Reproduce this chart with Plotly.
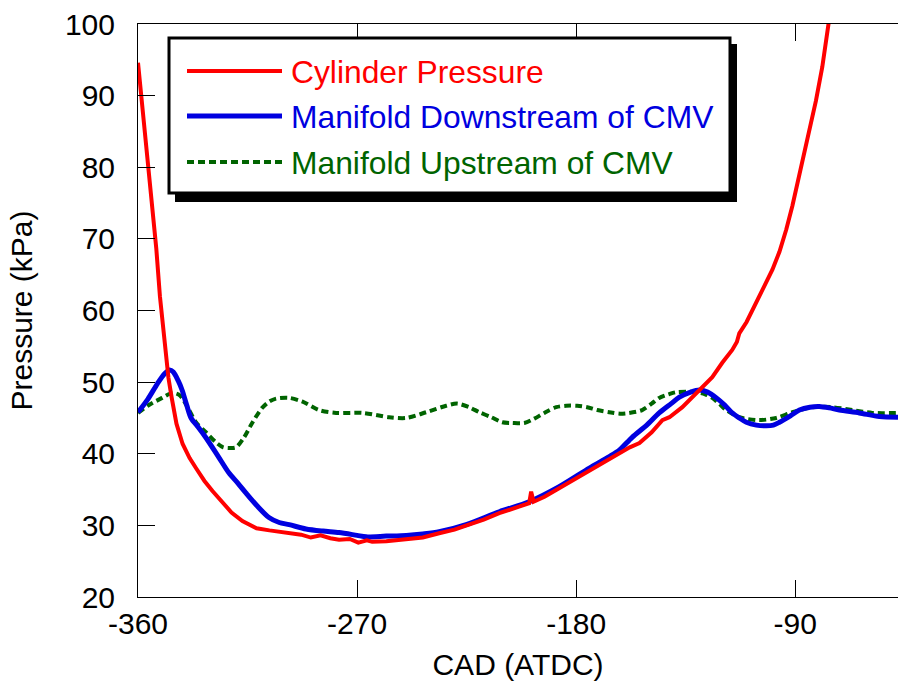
import plotly.graph_objects as go

# Crank angle (deg ATDC) and pressure (kPa) for each measured signal
cyl_cad = [-360, -358.5, -357, -355.5, -354, -352.5, -351, -349.1, -347.5, -346.2,
           -344.2, -341.7, -338.8, -336.0, -332.7, -329.4, -325.7, -321.6, -317.1,
           -311.3, -306, -302, -297, -293, -289, -285, -281, -277.4, -273, -269.5,
           -266, -263.8, -258, -253, -249.8, -243, -236.3, -230, -225, -218, -211.6,
           -205, -199.3, -198.5, -197.5, -193, -187, -181, -174.6, -170, -165.2,
           -162.3, -158, -154, -149, -144.6, -141.7, -136.4, -133.5, -130.7, -128.2,
           -124.1, -120, -115.9, -114, -113, -110, -107.6, -103.5, -99.4, -96.5,
           -93.7, -91.2, -88.5, -86.3, -84.2, -81.5, -78.9, -76.4, -75.5]
cyl_p = [94.6, 89.5, 84.5, 79.3, 74.0, 68.7, 62.0, 55.0, 50.6, 47.9,
         44.2, 41.4, 39.4, 37.9, 36.2, 34.8, 33.3, 31.8, 30.6,
         29.6, 29.3, 29.1, 28.9, 28.7, 28.3, 28.6, 28.2, 28.0, 28.1, 27.6,
         27.9, 27.7, 27.8, 28.0, 28.0, 28.3, 28.9, 29.4, 30.0, 30.8, 31.7,
         32.4, 33.1, 34.7, 33.3, 34.0, 35.2, 36.3, 37.7, 38.6, 39.6,
         40.1, 40.9, 41.5, 43.0, 44.7, 45.1, 46.5, 47.5, 48.5, 49.3,
         50.7, 52.7, 54.5, 55.6, 56.8, 58.4, 60.1, 62.9, 65.7, 68.2,
         71.3, 74.6, 78.7, 81.5, 84.8, 89.3, 94.0, 100.0, 102.0]

down_cad = [-360, -356, -352, -349, -347, -345.5, -343.5, -341.9, -340, -338.2,
            -335, -332, -327, -322.6, -319, -315.6, -311, -306.2, -302, -297.9,
            -291, -284, -277.4, -270, -266.3, -258, -249.8, -243, -236.3, -225.2,
            -211.6, -199.3, -187, -174.6, -166.4, -162.3, -157, -151, -145.9, -141,
            -137.6, -133, -129.4, -126, -122.4, -119, -115.9, -113, -110.1, -106,
            -101.9, -99, -96.5, -92, -88.3, -84, -80.1, -76, -71.9, -63.7, -55.4, -47.8]
down_p = [45.8, 47.6, 49.8, 51.2, 51.7, 51.4, 50.2, 48.9, 46.8, 45.0,
          43.6, 42.2, 39.6, 37.3, 35.9, 34.5, 32.7, 31.1, 30.4, 30.1,
          29.5, 29.2, 29.0, 28.6, 28.4, 28.5, 28.6, 28.8, 29.1, 30.1,
          31.9, 33.3, 35.4, 38.0, 39.6, 40.5, 42.3, 44.0, 45.7, 47.0,
          47.9, 48.6, 48.9, 48.6, 47.8, 46.8, 45.7, 45.0, 44.4, 44.0,
          43.9, 44.0, 44.4, 45.3, 46.1, 46.5, 46.6, 46.4, 46.1, 45.7, 45.2, 45.1]

up_cad = [-360, -355.5, -350.1, -346, -343.5, -341.9, -339, -336.2, -332.1, -328,
          -325, -322, -319.7, -316.4, -313.1, -309, -306, -303.3, -297.9, -292.6,
          -285.6, -278.6, -267.9, -256.8, -249.8, -241.6, -233.4, -228.9, -224, -219.8,
          -214.9, -210.4, -206.3, -201.3, -197.2, -193.1, -188.2, -184.1, -179.6, -175.5,
          -171.3, -166.4, -162, -158.2, -152.9, -149, -145.9, -142, -138.9, -130.7,
          -127, -124.1, -121, -118.3, -113, -104.8, -97.8, -91.2, -83, -74.8,
          -66.5, -58.3, -47.8]
up_p = [45.7, 46.8, 47.8, 48.5, 48.3, 47.8, 46.1, 44.4, 43.0, 41.6,
        40.9, 40.8, 40.9, 42.3, 44.3, 46.4, 47.3, 47.7, 47.8, 47.3,
        46.1, 45.7, 45.7, 45.1, 45.0, 45.8, 46.7, 47.0, 46.5, 45.8,
        45.1, 44.4, 44.3, 44.3, 44.9, 45.7, 46.5, 46.7, 46.7, 46.5,
        46.1, 45.8, 45.6, 45.7, 46.1, 47.0, 47.8, 48.3, 48.6, 48.6,
        48.3, 47.8, 46.9, 46.1, 45.1, 44.7, 45.0, 45.8, 46.5, 46.5,
        46.1, 45.7, 45.7]

series_names = ["Cylinder Pressure", "Manifold Downstream of CMV", "Manifold Upstream of CMV"]
series_colors = ["#ff0000", "#0000e0", "#006400"]

x_ticks = [-360, -270, -180, -90]
x_tick_text = ["-360", "-270", "-180", "-90"]
y_ticks = [20, 30, 40, 50, 60, 70, 80, 90, 100]

FONT = "Liberation Sans, Arial, sans-serif"

fig = go.Figure()
fig.add_trace(go.Scatter(x=up_cad, y=up_p, mode="lines", name=series_names[2],
                         line=dict(color=series_colors[2], width=4, dash="7px,4px",
                                   shape="spline", smoothing=0.8)))
fig.add_trace(go.Scatter(x=down_cad, y=down_p, mode="lines", name=series_names[1],
                         line=dict(color=series_colors[1], width=5,
                                   shape="spline", smoothing=0.8)))
fig.add_trace(go.Scatter(x=cyl_cad, y=cyl_p, mode="lines", name=series_names[0],
                         line=dict(color=series_colors[0], width=4)))

# plot-area geometry in pixels, used to place the boxed key
L, T, R, B = 138, 24, 898, 597


def px(xp):
    return (xp - L) / (R - L)


def py(yp):
    return (B - yp) / (B - T)


shapes = [
    # drop shadow and framed box of the key
    dict(type="rect", xref="paper", yref="paper", x0=px(175), x1=px(737),
         y0=py(202), y1=py(44), fillcolor="black", line=dict(width=0), layer="above"),
    dict(type="rect", xref="paper", yref="paper", x0=px(169), x1=px(730),
         y0=py(193), y1=py(38), fillcolor="white", line=dict(color="black", width=3),
         layer="above"),
]
annotations = []
rows_y = [71, 116, 162]
dashes = ["solid", "solid", "7px,4px"]
widths = [4, 5, 4]
for name, color, ry, dsh, w in zip(series_names, series_colors, rows_y, dashes, widths):
    shapes.append(dict(type="line", xref="paper", yref="paper", x0=px(187), x1=px(282),
                       y0=py(ry), y1=py(ry), line=dict(color=color, width=w, dash=dsh),
                       layer="above"))
    annotations.append(dict(xref="paper", yref="paper", x=px(289), y=py(ry + 1),
                            xanchor="left", yanchor="middle", showarrow=False,
                            text=name, font=dict(family=FONT, size=31.8, color=color)))

fig.update_layout(
    width=898, height=681,
    margin=dict(l=L, r=898 - R, t=T, b=681 - B),
    paper_bgcolor="white", plot_bgcolor="white",
    showlegend=False,
    font=dict(family=FONT, size=30, color="black"),
    xaxis=dict(range=[-360, -47.8], tickvals=x_ticks, ticktext=x_tick_text,
               ticks="inside", ticklen=17,
               tickwidth=1, tickcolor="black", showline=True, linecolor="black",
               linewidth=1, mirror="ticks", showgrid=False, zeroline=False,
               tickfont=dict(size=30), ticklabelstandoff=0,
               title=dict(text="CAD (ATDC)", font=dict(size=30), standoff=16)),
    yaxis=dict(range=[20, 100], tickvals=y_ticks, ticks="inside", ticklen=17,
               tickwidth=1, tickcolor="black", showline=True, linecolor="black",
               linewidth=1, mirror=False, showgrid=False, zeroline=False,
               tickfont=dict(size=30), ticklabelstandoff=16,
               title=dict(text="Pressure (kPa)", font=dict(size=30), standoff=23)),
    yaxis2=dict(range=[20, 100], tickvals=y_ticks, overlaying="y", side="right",
                anchor="x", ticks="inside", ticklen=9, tickwidth=1, tickcolor="black",
                showticklabels=False, showline=False, showgrid=False, zeroline=False),
    shapes=shapes,
    annotations=annotations,
)

fig.write_html("out.html")
